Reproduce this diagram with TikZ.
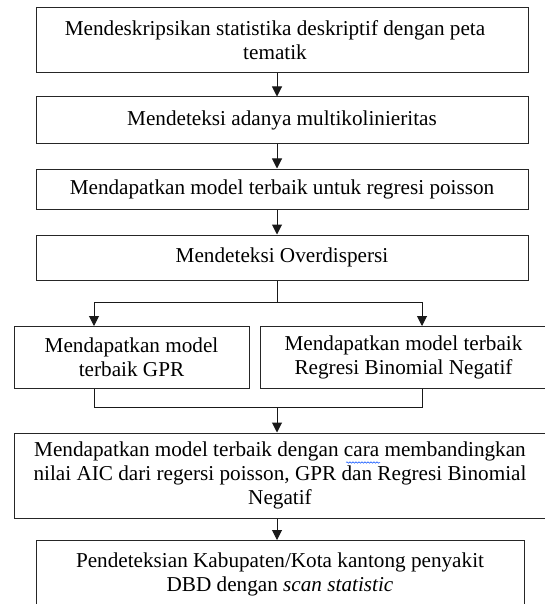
\documentclass[tikz,border=0pt]{standalone}
\usepackage{fontspec}
\setmainfont{Liberation Serif}
\usetikzlibrary{arrows.meta,decorations.pathmorphing}
\begin{document}
\begin{tikzpicture}[x=1pt,y=-1pt,
  box/.style={draw=black!85,line width=1pt,rectangle,inner sep=0pt,align=center,
    font=\fontsize{21.2pt}{23.8pt}\selectfont},
  arr/.style={draw=black!90,line width=1pt,-{Triangle[length=10pt,width=10pt]}},
  ln/.style={draw=black!90,line width=1pt}]
\useasboundingbox[fill=white] (0,0) rectangle (545,604);
% main boxes
\node[box,minimum width=492pt,minimum height=65pt] (b1) at (282,40.5)
  {Mendeskripsikan statistika deskriptif dengan peta\hspace*{14pt}\\tematik\hspace*{14pt}};
\node[box,minimum width=492pt,minimum height=47pt] (b2) at (282,120.5)
  {Mendeteksi adanya multikolinieritas};
\node[box,minimum width=492pt,minimum height=40pt] (b3) at (282,189)
  {Mendapatkan model terbaik untuk regresi poisson};
\node[box,minimum width=492pt,minimum height=45pt] (b4) at (282,257.5)
  {Mendeteksi Overdispersi};
\node[box,minimum width=235pt,minimum height=62pt] (b5) at (131.5,357.5)
  {Mendapatkan model\\terbaik GPR};
\node[box,minimum width=287pt,minimum height=62pt] (b6) at (403.5,357.5)
  {Mendapatkan model terbaik\\Regresi Binomial Negatif};
\node[box,minimum width=532pt,minimum height=85pt] (b7) at (280,475.5)
  {Mendapatkan model terbaik dengan cara membandingkan\\nilai AIC dari regersi poisson, GPR dan Regresi Binomial\\Negatif};
\node[box,anchor=north,minimum width=488pt,inner ysep=12pt] (b8) at (280,540)
  {Pendeteksian Kabupaten/Kota kantong penyakit\\DBD dengan \textit{scan statistic}};
% spell-check wave under "cara"
\draw[blue!70!cyan,line width=0.5pt,decorate,decoration={snake,amplitude=0.7pt,segment length=3pt}]
  (346,462.5) -- (380,462.5);
% junction coordinates
\coordinate (sp) at (277,0);
\coordinate (jt) at (277,302);
\coordinate (jl) at (94,302);
\coordinate (jr) at (422,302);
\coordinate (jb) at (277,407);
% connectors
\draw[arr] (b1.south -| sp) -- (b2.north -| sp);
\draw[arr] (b2.south -| sp) -- (b3.north -| sp);
\draw[arr] (b3.south -| sp) -- (b4.north -| sp);
\draw[ln] (b4.south -| sp) -- (jt);
\draw[arr] (jt) -| (b5.north -| jl);
\draw[arr] (jt) -| (b6.north -| jr);
\draw[ln] (b5.south -| jl) |- (jb);
\draw[ln] (b6.south -| jr) |- (jb);
\draw[arr] (jb) -- (b7.north -| jb);
\draw[arr] (b7.south -| sp) -- (b8.north -| sp);
\end{tikzpicture}
\end{document}
